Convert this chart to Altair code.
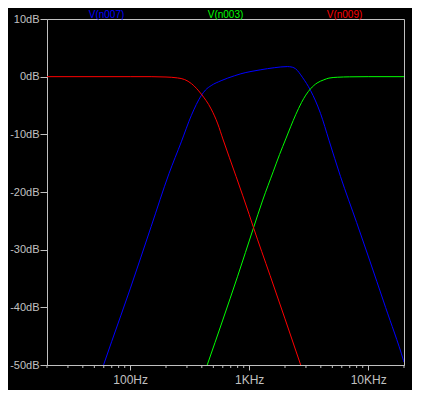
import altair as alt
import pandas as pd

# ---- data ----
series_names = ["V(n007)", "V(n003)", "V(n009)"]
series_colors = ["#0000ff", "#00ff00", "#ff0000"]

# V(n007) - band pass (blue)
blue_freq = [59.7, 70, 100, 150, 212, 269, 327, 395, 430, 479, 581, 751, 850, 1036, 1253, 1623,
             2090, 2300, 2460, 2800, 3280, 3980, 4680, 5850, 8000, 10000, 14000, 19800, 20000]
blue_db = [-50, -45.9, -36.8, -26.0, -16.8, -11.3, -6.7, -3.3, -2.3, -1.55, -0.7, 0.15, 0.5, 0.9, 1.2, 1.55,
           1.75, 1.65, 1.35, -0.1, -2.4, -6.4, -11.0, -17.3, -25.3, -31.1, -40.0, -49.2, -49.5]

# V(n003) - high pass (green)
green_freq = [444, 600, 800, 1080, 1300, 1590, 1800, 2030, 2240, 2460, 2750, 2990, 3280, 3720,
              4240, 4680, 5500, 7000, 10000, 20000]
green_db = [-50, -42.2, -34.6, -26.4, -21.4, -16.5, -13.5, -10.8, -8.6, -6.6, -4.5, -3.2, -2.1, -1.1,
            -0.55, -0.25, -0.1, -0.03, 0, 0]

# V(n009) - low pass (red)
red_freq = [20, 100, 150, 200, 250, 287, 327, 395, 479, 545, 601, 776, 1000, 1080, 1500, 2000, 2710]
red_db = [0, 0, 0, -0.06, -0.22, -0.5, -1.2, -3.0, -5.6, -8.2, -10.8, -17.3, -23.9, -26.0, -34.5, -42.0, -50]

major_ticks = [100, 1000, 10000]
minor_ticks = [20, 30, 40, 50, 60, 70, 80, 90, 200, 300, 400, 500, 600, 700, 800, 900,
               2000, 3000, 4000, 5000, 6000, 7000, 8000, 9000, 20000]
y_ticks = [-50, -40, -30, -20, -10, 0, 10]

rows = []
for name, fr, db in [("V(n007)", blue_freq, blue_db), ("V(n003)", green_freq, green_db),
                     ("V(n009)", red_freq, red_db)]:
    for f, d in zip(fr, db):
        rows.append({"series": name, "freq": f, "db": d})
df = pd.DataFrame(rows)
df_minor = pd.DataFrame({"freq": minor_ticks})
df_names = pd.DataFrame({"series": series_names})

W, H = 357, 346
GRAY = "#c0c0c0"
FONT = "Liberation Sans"

xscale = alt.Scale(type="log", domain=[20, 20000], nice=False)
color = alt.Color("series:N", scale=alt.Scale(domain=series_names, range=series_colors), legend=None)

lines = alt.Chart(df).mark_line(strokeWidth=1, interpolate="monotone", clip=True).encode(
    x=alt.X("freq:Q", scale=xscale, title=None,
            axis=alt.Axis(values=major_ticks, grid=False, tickSize=5, labelPadding=4,
                          labelExpr="datum.value >= 1000 ? (datum.value/1000) + 'KHz' : datum.value + 'Hz'",
                          labelFontSize=12, labelFont=FONT, labelColor=GRAY, tickColor=GRAY,
                          domainColor=GRAY, labelFlush=False)),
    y=alt.Y("db:Q", scale=alt.Scale(domain=[-50, 10], nice=False), title=None,
            axis=alt.Axis(values=y_ticks, grid=False, tickSize=7, labelPadding=1,
                          labelExpr="datum.value + 'dB'", labelFontSize=11, labelFont=FONT,
                          labelColor=GRAY, tickColor=GRAY, domainColor=GRAY, labelFlush=False)),
    color=color,
    detail="series:N",
    order="freq:Q",
)

minor = alt.Chart(df_minor).mark_rule(color=GRAY, strokeWidth=1, clip=False).encode(
    x=alt.X("freq:Q", scale=xscale, axis=None),
    y=alt.value(H),
    y2=alt.value(H + 3),
)

titles = alt.Chart(df_names).mark_text(font=FONT, fontSize=10, baseline="alphabetic", align="center").encode(
    x=alt.X("series:N", sort=series_names, scale=alt.Scale(type="point", padding=0.5), axis=None),
    y=alt.value(-1.5),
    text="series:N",
    color=color,
)

chart = alt.layer(lines, minor, titles).resolve_scale(x="independent").properties(
    width=W, height=H,
    autosize=alt.AutoSizeParams(type="none"),
    padding={"left": 39, "top": 11, "right": 8, "bottom": 25},
    background="black",
).configure_view(
    stroke=GRAY, strokeWidth=1, fill="black"
).configure_axis(
    domainWidth=1, tickWidth=1
)

chart.save("out.html", embed_options={"renderer": "svg", "actions": False})
